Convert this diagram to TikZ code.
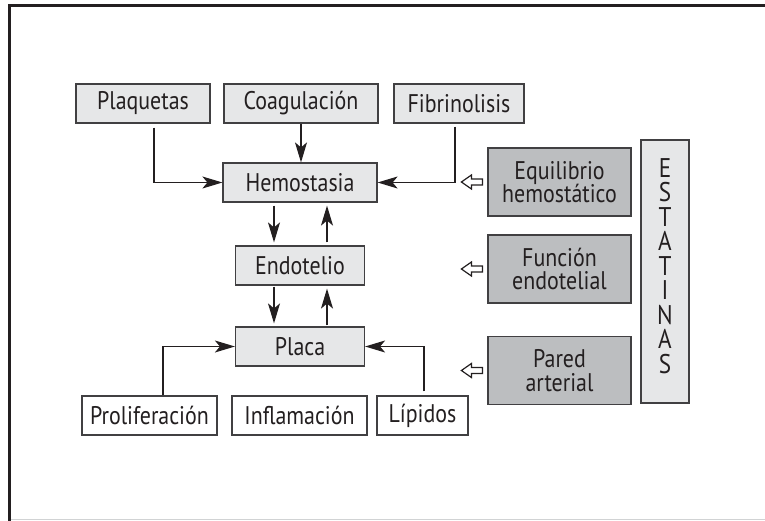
\documentclass[tikz,border=0pt]{standalone}
\usepackage{fontspec}
\setmainfont{PT Sans}[FakeStretch=0.86]
\usetikzlibrary{arrows.meta,calc}
\definecolor{boxlight}{HTML}{E6E7E8}
\definecolor{boxdark}{HTML}{BCBEC0}
\definecolor{ink}{HTML}{231F20}
\definecolor{edge}{HTML}{414042}
\definecolor{framegray}{HTML}{D1D3D4}
\begin{document}
\begin{tikzpicture}[x=1pt,y=-1pt,
  box/.style={draw=edge, line width=1.2pt, fill=boxlight, minimum height=39pt,
    inner sep=0pt, text=ink, font=\fontsize{25.5}{23.5}\selectfont},
  wbox/.style={box, fill=white},
  gbox/.style={box, fill=boxdark, minimum height=68pt, minimum width=143pt, align=center},
  arr/.style={draw=ink, line width=1.2pt, -{Stealth[length=20pt,width=12pt,inset=5pt]}},
  hollow/.style={draw=ink, line width=1.2pt, fill=white, line join=miter}
]
\useasboundingbox (0,0) rectangle (765,521);
% frame
\draw[framegray, line width=1pt] (9.5,519.5) -- (765,519.5);
\draw[ink, line width=3pt] (9.5,521) -- (9.5,5.5) -- (765,5.5);

% top row
\node[box, minimum width=134pt] (plaq) at (143,103.5) {Plaquetas};
\node[box, minimum width=154pt] (coag) at (301,103.5) {Coagulación};
\node[box, minimum width=130pt] (fib) at (459,103.5) {Fibrinolisis};

% central column
\node[box, minimum width=154pt] (hemo) at (300,182.5) {Hemostasia};
\node[box, minimum width=129pt] (endo) at (300,265.5) {Endotelio};
\node[box, minimum width=129pt] (placa) at (300,346.5) {Placa};

% bottom row
\node[wbox, minimum width=135pt] (prol) at (149.5,415.5) {Proliferación};
\node[wbox, minimum width=135pt] (infl) at (299.5,415.5) {Inflamación};
\node[wbox, minimum width=91pt] (lip) at (422.5,415.5) {Lípidos};

% right column
\node[gbox] (eq) at (559.5,182) {Equilibrio\\hemostático};
\node[gbox] (func) at (559.5,269) {Función\\endotelial};
\node[gbox] (pared) at (559.5,370.5) {Pared\\arterial};
\node[box, minimum width=48pt, minimum height=263pt] (est) at (665,271.5) {};
\node[text=ink, align=center, inner sep=0pt, font=\fontsize{27}{24.5}\selectfont]
  (estt) at ([yshift=5.5pt]est.center) {E\\S\\T\\A\\T\\I\\N\\A\\S};

% connectors into Hemostasia
\draw[arr] ([xshift=11pt,yshift=-4pt]plaq.south) |- (hemo.west);
\draw[arr] (coag.south) -- (coag.south |- hemo.north);
\draw[arr] ([xshift=-4pt,yshift=-3pt]fib.south) |- (hemo.east);

% Hemostasia <-> Endotelio <-> Placa
\draw[arr, shorten <=3pt, shorten >=3pt] ([xshift=-26pt]hemo.south) -- ([xshift=-26pt]endo.north);
\draw[arr, shorten <=3pt, shorten >=3pt] ([xshift=27pt]endo.north) -- ([xshift=27pt]hemo.south);
\draw[arr, shorten <=1pt, shorten >=3pt] ([xshift=-26pt]endo.south) -- ([xshift=-26pt]placa.north);
\draw[arr, shorten <=1pt, shorten >=3pt] ([xshift=27pt]placa.north) -- ([xshift=27pt]endo.south);

% into Placa
\draw[arr] ([xshift=13.5pt]prol.north) |- (placa.west);
\draw[arr] ([xshift=1.5pt,yshift=4pt]lip.north) |- (placa.east);

% hollow arrows from the grey boxes
\foreach \n in {eq,func,pared}{
  \draw[hollow] ([xshift=-5pt]\n.west) ++(0,3) -- ++(-11,0) -- ++(0,4) -- ++(-10,-7)
     -- ++(10,-7) -- ++(0,4) -- ++(11,0) -- cycle;
}
\end{tikzpicture}
\end{document}
